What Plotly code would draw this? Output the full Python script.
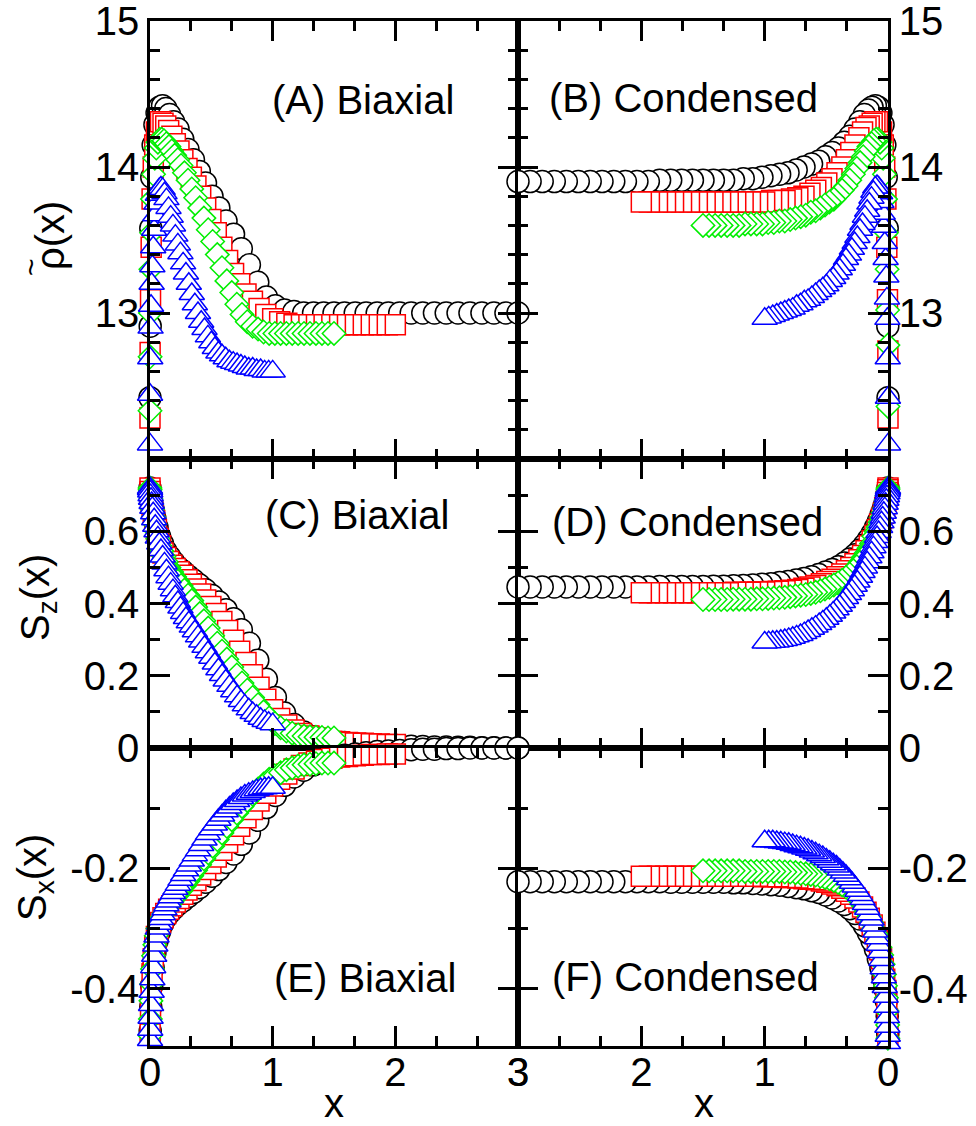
import plotly.graph_objects as go

FONT = "Liberation Sans, Arial, sans-serif"

# ---------------- data: x grids (one per slab width L = 3, 2, 1.5, 1) ----------------
x_L3 = [0.0, 0.0016, 0.0064, 0.0144, 0.0257, 0.0401, 0.0576, 0.0784, 0.1022, 0.1292,
        0.1592, 0.1923, 0.2284, 0.2674, 0.3094, 0.3542, 0.4019, 0.4524, 0.5056, 0.5615,
        0.6199, 0.6810, 0.7445, 0.8104, 0.8787, 0.9492, 1.0220, 1.0968, 1.1737, 1.2526,
        1.3333, 1.4158, 1.5000, 1.5858, 1.6731, 1.7619, 1.8520, 1.9433, 2.0357, 2.1291,
        2.2235, 2.3188, 2.4147, 2.5113, 2.6084, 2.7059, 2.8038, 2.9018, 3.0]
x_L2 = [0.0, 0.0011, 0.0043, 0.0096, 0.0171, 0.0267, 0.0384, 0.0522, 0.0681, 0.0861,
        0.1061, 0.1282, 0.1522, 0.1783, 0.2063, 0.2362, 0.2679, 0.3016, 0.3371, 0.3743,
        0.4133, 0.4540, 0.4963, 0.5403, 0.5858, 0.6328, 0.6813, 0.7312, 0.7825, 0.8350,
        0.8889, 0.9439, 1.0000, 1.0572, 1.1154, 1.1746, 1.2346, 1.2955, 1.3571, 1.4194,
        1.4824, 1.5458, 1.6098, 1.6742, 1.7389, 1.8040, 1.8692, 1.9346, 2.0]
x_L15 = [0.0, 0.0008, 0.0032, 0.0072, 0.0128, 0.0200, 0.0288, 0.0392, 0.0511, 0.0646,
         0.0796, 0.0961, 0.1142, 0.1337, 0.1547, 0.1771, 0.2010, 0.2262, 0.2528, 0.2807,
         0.3100, 0.3405, 0.3722, 0.4052, 0.4393, 0.4746, 0.5110, 0.5484, 0.5868, 0.6263,
         0.6667, 0.7079, 0.7500, 0.7929, 0.8366, 0.8809, 0.9260, 0.9716, 1.0179, 1.0646,
         1.1118, 1.1594, 1.2073, 1.2556, 1.3042, 1.3530, 1.4019, 1.4510, 1.5]
x_L1 = [0.0, 0.0005, 0.0021, 0.0048, 0.0086, 0.0134, 0.0192, 0.0261, 0.0341, 0.0431,
        0.0531, 0.0641, 0.0761, 0.0891, 0.1031, 0.1181, 0.1340, 0.1508, 0.1685, 0.1872,
        0.2066, 0.2270, 0.2482, 0.2701, 0.2929, 0.3164, 0.3407, 0.3656, 0.3912, 0.4175,
        0.4444, 0.4719, 0.5000, 0.5286, 0.5577, 0.5873, 0.6173, 0.6478, 0.6786, 0.7097,
        0.7412, 0.7729, 0.8049, 0.8371, 0.8695, 0.9020, 0.9346, 0.9673, 1.0]

# ---------------- (A) biaxial density ----------------
rho_biax_L3 = [12.42, 12.91, 13.58, 13.93, 14.15, 14.29, 14.37, 14.41, 14.42, 14.40,
               14.36, 14.31, 14.26, 14.19, 14.12, 14.05, 13.97, 13.89, 13.80, 13.72,
               13.63, 13.54, 13.44, 13.33, 13.21, 13.11, 13.05, 13.02, 13.01, 13.00,
               13.00, 13.00, 13.00, 13.00, 13.00, 13.00, 13.00, 13.00, 13.00, 13.00,
               13.00, 13.00, 13.00, 13.00, 13.00, 13.00, 13.00, 13.00, 13.00]
rho_biax_L2 = [12.28, 12.73, 13.09, 13.45, 13.78, 14.00, 14.15, 14.24, 14.29, 14.31,
               14.30, 14.28, 14.25, 14.21, 14.16, 14.11, 14.05, 13.99, 13.93, 13.87,
               13.80, 13.72, 13.64, 13.55, 13.45, 13.36, 13.27, 13.20, 13.13, 13.08,
               13.03, 12.99, 12.96, 12.94, 12.93, 12.92, 12.92, 12.92, 12.92, 12.92,
               12.92, 12.92, 12.92, 12.92, 12.92, 12.92, 12.92, 12.92, 12.92]
rho_biax_L15 = [12.33, 12.70, 13.00, 13.30, 13.55, 13.78, 13.95, 14.06, 14.13, 14.17,
                14.19, 14.19, 14.18, 14.16, 14.14, 14.11, 14.08, 14.05, 14.01, 13.96,
                13.91, 13.85, 13.79, 13.72, 13.65, 13.57, 13.49, 13.40, 13.31, 13.22,
                13.14, 13.06, 12.99, 12.94, 12.91, 12.89, 12.87, 12.86, 12.86, 12.86,
                12.86, 12.86, 12.86, 12.86, 12.86, 12.86, 12.86, 12.86, 12.86]
rho_biax_L1 = [12.10, 12.44, 12.69, 12.90, 13.05, 13.20, 13.32, 13.45, 13.57, 13.67,
               13.75, 13.81, 13.85, 13.86, 13.85, 13.82, 13.78, 13.72, 13.66, 13.60,
               13.53, 13.47, 13.41, 13.34, 13.27, 13.20, 13.13, 13.06, 13.00, 12.94,
               12.89, 12.84, 12.80, 12.76, 12.73, 12.71, 12.69, 12.67, 12.66, 12.65,
               12.64, 12.63, 12.62, 12.62, 12.61, 12.61, 12.60, 12.60, 12.60]

# ---------------- (B) condensed density ----------------
rho_cond_L3 = [12.42, 12.91, 13.58, 13.93, 14.15, 14.29, 14.37, 14.41, 14.42, 14.41,
               14.39, 14.36, 14.31, 14.26, 14.21, 14.17, 14.13, 14.10, 14.07, 14.04,
               14.02, 14.00, 13.98, 13.96, 13.95, 13.94, 13.93, 13.92, 13.92, 13.91,
               13.91, 13.91, 13.91, 13.91, 13.91, 13.91, 13.91, 13.90, 13.90, 13.90,
               13.90, 13.90, 13.90, 13.90, 13.90, 13.90, 13.90, 13.90, 13.90]
rho_cond_L2 = [12.28, 12.74, 13.09, 13.45, 13.78, 14.00, 14.15, 14.24, 14.29, 14.31,
               14.31, 14.30, 14.28, 14.27, 14.24, 14.20, 14.15, 14.10, 14.05, 14.00,
               13.96, 13.92, 13.89, 13.86, 13.84, 13.82, 13.80, 13.79, 13.78, 13.77,
               13.77, 13.77, 13.76, 13.76, 13.76, 13.76, 13.76, 13.76, 13.76, 13.76,
               13.76, 13.76, 13.76, 13.76, 13.76, 13.76, 13.76, 13.76, 13.76]
rho_cond_L15 = [12.36, 12.78, 13.02, 13.30, 13.55, 13.78, 13.95, 14.06, 14.13, 14.17,
                14.19, 14.19, 14.18, 14.16, 14.14, 14.11, 14.07, 14.03, 13.99, 13.95,
                13.91, 13.87, 13.84, 13.81, 13.78, 13.76, 13.74, 13.72, 13.70, 13.69,
                13.67, 13.66, 13.65, 13.64, 13.63, 13.63, 13.62, 13.62, 13.61, 13.61,
                13.61, 13.61, 13.60, 13.60, 13.60, 13.60, 13.60, 13.60, 13.60]
rho_cond_L1 = [12.10, 12.42, 12.69, 12.96, 13.10, 13.25, 13.37, 13.48, 13.59, 13.68,
               13.76, 13.82, 13.86, 13.87, 13.86, 13.83, 13.79, 13.75, 13.70, 13.66,
               13.61, 13.57, 13.52, 13.48, 13.44, 13.40, 13.37, 13.33, 13.30, 13.27,
               13.24, 13.22, 13.19, 13.17, 13.15, 13.13, 13.11, 13.09, 13.08, 13.06,
               13.05, 13.03, 13.02, 13.01, 13.00, 12.99, 12.98, 12.97, 12.96]

# ---------------- (C) biaxial S_z ----------------
sz_biax_L3 = [0.720, 0.710, 0.700, 0.680, 0.660, 0.635, 0.610, 0.585, 0.565, 0.545,
              0.530, 0.515, 0.500, 0.490, 0.477, 0.465, 0.452, 0.438, 0.422, 0.404,
              0.383, 0.358, 0.327, 0.290, 0.243, 0.190, 0.140, 0.097, 0.065, 0.044,
              0.031, 0.023, 0.018, 0.015, 0.012, 0.010, 0.008, 0.007, 0.006, 0.005,
              0.004, 0.003, 0.003, 0.002, 0.002, 0.001, 0.001, 0.000, 0.000]
sz_biax_L2 = [0.720, 0.710, 0.700, 0.685, 0.670, 0.650, 0.630, 0.605, 0.580, 0.560,
              0.540, 0.527, 0.516, 0.506, 0.497, 0.488, 0.478, 0.466, 0.453, 0.440,
              0.426, 0.410, 0.392, 0.372, 0.350, 0.325, 0.298, 0.268, 0.237, 0.203,
              0.168, 0.135, 0.106, 0.082, 0.064, 0.050, 0.040, 0.033, 0.028, 0.024,
              0.019, 0.017, 0.015, 0.014, 0.013, 0.012, 0.011, 0.010, 0.010]
sz_biax_L15 = [0.720, 0.715, 0.705, 0.690, 0.675, 0.660, 0.640, 0.620, 0.600, 0.580,
               0.560, 0.545, 0.530, 0.515, 0.500, 0.487, 0.474, 0.462, 0.450, 0.437,
               0.423, 0.408, 0.390, 0.372, 0.352, 0.332, 0.311, 0.290, 0.268, 0.246,
               0.224, 0.202, 0.180, 0.160, 0.140, 0.120, 0.100, 0.083, 0.068, 0.056,
               0.047, 0.041, 0.036, 0.033, 0.031, 0.030, 0.029, 0.028, 0.028]
sz_biax_L1 = [0.720, 0.716, 0.710, 0.700, 0.690, 0.678, 0.665, 0.650, 0.633, 0.615,
              0.600, 0.583, 0.566, 0.548, 0.530, 0.511, 0.492, 0.473, 0.455, 0.437,
              0.420, 0.404, 0.389, 0.374, 0.360, 0.348, 0.336, 0.323, 0.309, 0.295,
              0.280, 0.265, 0.250, 0.234, 0.218, 0.202, 0.187, 0.172, 0.157, 0.143,
              0.130, 0.118, 0.107, 0.097, 0.089, 0.081, 0.075, 0.070, 0.066]

# ---------------- (D) condensed S_z ----------------
sz_cond_L3 = [0.720, 0.715, 0.705, 0.690, 0.675, 0.660, 0.645, 0.627, 0.610, 0.593,
              0.577, 0.562, 0.548, 0.535, 0.523, 0.512, 0.502, 0.494, 0.487, 0.480,
              0.474, 0.469, 0.465, 0.461, 0.458, 0.455, 0.453, 0.451, 0.450, 0.449,
              0.448, 0.448, 0.447, 0.447, 0.447, 0.447, 0.447, 0.446, 0.446, 0.446,
              0.446, 0.446, 0.446, 0.446, 0.446, 0.446, 0.446, 0.446, 0.446]
sz_cond_L2 = [0.720, 0.715, 0.707, 0.695, 0.680, 0.665, 0.650, 0.635, 0.620, 0.604,
              0.589, 0.574, 0.560, 0.546, 0.533, 0.521, 0.510, 0.500, 0.491, 0.482,
              0.474, 0.467, 0.461, 0.455, 0.450, 0.446, 0.442, 0.439, 0.437, 0.435,
              0.434, 0.433, 0.432, 0.432, 0.431, 0.431, 0.431, 0.430, 0.430, 0.430,
              0.430, 0.430, 0.430, 0.430, 0.430, 0.430, 0.430, 0.430, 0.430]
sz_cond_L15 = [0.720, 0.716, 0.708, 0.698, 0.687, 0.675, 0.663, 0.651, 0.638, 0.625,
               0.612, 0.599, 0.586, 0.566, 0.553, 0.540, 0.527, 0.514, 0.502, 0.491,
               0.481, 0.472, 0.464, 0.457, 0.451, 0.445, 0.440, 0.435, 0.431, 0.428,
               0.425, 0.423, 0.421, 0.419, 0.417, 0.416, 0.415, 0.414, 0.413, 0.413,
               0.412, 0.412, 0.412, 0.412, 0.411, 0.411, 0.411, 0.411, 0.411]
sz_cond_L1 = [0.720, 0.717, 0.712, 0.705, 0.697, 0.687, 0.676, 0.664, 0.651, 0.638,
              0.625, 0.612, 0.598, 0.584, 0.570, 0.556, 0.542, 0.528, 0.514, 0.500,
              0.487, 0.474, 0.461, 0.449, 0.437, 0.426, 0.415, 0.404, 0.394, 0.384,
              0.375, 0.366, 0.358, 0.350, 0.343, 0.336, 0.330, 0.324, 0.318, 0.313,
              0.309, 0.305, 0.302, 0.299, 0.297, 0.295, 0.294, 0.293, 0.292]

# ---------------- (E) biaxial S_x ----------------
sx_biax_L3 = [-0.497, -0.470, -0.430, -0.395, -0.365, -0.340, -0.320, -0.305, -0.292, -0.282,
              -0.274, -0.267, -0.260, -0.254, -0.247, -0.240, -0.232, -0.223, -0.213, -0.202,
              -0.190, -0.176, -0.160, -0.141, -0.120, -0.099, -0.079, -0.062, -0.048, -0.037,
              -0.028, -0.021, -0.016, -0.012, -0.010, -0.008, -0.006, -0.005, -0.004, -0.003,
              -0.002, -0.002, -0.001, -0.001, 0.000, 0.000, 0.000, 0.000, 0.000]
sx_biax_L2 = [-0.497, -0.475, -0.440, -0.405, -0.375, -0.350, -0.330, -0.313, -0.300, -0.290,
              -0.282, -0.275, -0.268, -0.262, -0.256, -0.250, -0.243, -0.236, -0.228, -0.220,
              -0.211, -0.202, -0.192, -0.181, -0.170, -0.157, -0.144, -0.130, -0.116, -0.102,
              -0.088, -0.075, -0.063, -0.052, -0.043, -0.035, -0.029, -0.025, -0.022, -0.019,
              -0.017, -0.015, -0.014, -0.013, -0.012, -0.011, -0.011, -0.010, -0.010]
sx_biax_L15 = [-0.497, -0.478, -0.450, -0.420, -0.392, -0.367, -0.345, -0.327, -0.312, -0.300,
               -0.290, -0.282, -0.275, -0.268, -0.262, -0.256, -0.250, -0.244, -0.237, -0.229,
               -0.221, -0.212, -0.203, -0.194, -0.184, -0.174, -0.163, -0.152, -0.141, -0.130,
               -0.119, -0.108, -0.097, -0.087, -0.077, -0.068, -0.060, -0.052, -0.046, -0.041,
               -0.036, -0.033, -0.030, -0.028, -0.027, -0.026, -0.025, -0.025, -0.025]
sx_biax_L1 = [-0.497, -0.485, -0.468, -0.448, -0.427, -0.405, -0.384, -0.364, -0.345, -0.328,
              -0.313, -0.300, -0.292, -0.284, -0.276, -0.268, -0.261, -0.255, -0.248, -0.241,
              -0.234, -0.227, -0.219, -0.211, -0.203, -0.195, -0.187, -0.178, -0.170, -0.161,
              -0.152, -0.143, -0.135, -0.127, -0.119, -0.112, -0.105, -0.099, -0.093, -0.088,
              -0.083, -0.079, -0.076, -0.073, -0.070, -0.068, -0.067, -0.066, -0.066]

# ---------------- (F) condensed S_x ----------------
sx_cond_L3 = [-0.497, -0.475, -0.445, -0.420, -0.400, -0.382, -0.365, -0.350, -0.334, -0.320,
              -0.307, -0.295, -0.284, -0.275, -0.267, -0.260, -0.254, -0.249, -0.244, -0.240,
              -0.237, -0.234, -0.232, -0.230, -0.228, -0.227, -0.226, -0.225, -0.224, -0.224,
              -0.223, -0.223, -0.223, -0.223, -0.223, -0.223, -0.222, -0.222, -0.222, -0.222,
              -0.222, -0.222, -0.222, -0.222, -0.222, -0.222, -0.222, -0.222, -0.222]
sx_cond_L2 = [-0.497, -0.478, -0.450, -0.425, -0.403, -0.384, -0.366, -0.350, -0.335, -0.320,
              -0.306, -0.294, -0.283, -0.273, -0.264, -0.256, -0.249, -0.243, -0.238, -0.233,
              -0.229, -0.226, -0.223, -0.221, -0.219, -0.218, -0.217, -0.216, -0.215, -0.215,
              -0.214, -0.214, -0.214, -0.213, -0.213, -0.213, -0.213, -0.213, -0.213, -0.213,
              -0.213, -0.213, -0.213, -0.213, -0.213, -0.213, -0.213, -0.213, -0.213]
sx_cond_L15 = [-0.497, -0.482, -0.460, -0.437, -0.415, -0.395, -0.376, -0.359, -0.344, -0.331,
               -0.319, -0.309, -0.300, -0.290, -0.280, -0.271, -0.262, -0.254, -0.247, -0.241,
               -0.236, -0.231, -0.227, -0.223, -0.220, -0.217, -0.215, -0.213, -0.211, -0.210,
               -0.209, -0.208, -0.207, -0.206, -0.206, -0.205, -0.205, -0.205, -0.205, -0.205,
               -0.205, -0.205, -0.204, -0.204, -0.204, -0.204, -0.204, -0.204, -0.204]
sx_cond_L1 = [-0.497, -0.490, -0.478, -0.463, -0.447, -0.430, -0.413, -0.397, -0.381, -0.366,
              -0.352, -0.339, -0.327, -0.316, -0.305, -0.295, -0.285, -0.276, -0.267, -0.259,
              -0.251, -0.244, -0.237, -0.230, -0.224, -0.218, -0.212, -0.207, -0.202, -0.197,
              -0.193, -0.189, -0.185, -0.181, -0.178, -0.175, -0.172, -0.169, -0.167, -0.165,
              -0.163, -0.161, -0.159, -0.158, -0.157, -0.156, -0.155, -0.155, -0.155]

# ---------------- ticks / labels ----------------
x_ticks = [0, 1, 2, 3]
x_ticktext = ["0", "1", "2", "3"]
rho_ticks = [12, 13, 14, 15]
rho_ticktext = ["", "13", "14", "15"]
sz_ticks = [0, 0.2, 0.4, 0.6, 0.8]
sz_ticktext = ["0", "0.2", "0.4", "0.6", ""]
sx_ticks = [-0.4, -0.2, 0]
sx_ticktext = ["-0.4", "-0.2", ""]
panel_labels = ["(A) Biaxial", "(B) Condensed", "(C) Biaxial",
                "(D) Condensed", "(E) Biaxial", "(F) Condensed"]

# ---------------- figure ----------------
W, H = 976, 1126
fig = go.Figure()

xs = [x_L3, x_L2, x_L15, x_L1]
styles = [dict(symbol="circle", size=22, color="black"),
          dict(symbol="square", size=20, color="#ff0000"),
          dict(symbol="diamond", size=18, color="#00ee00"),
          dict(symbol="triangle-up", size=22, color="#0000ff")]
panels = [("x", "y", [rho_biax_L3, rho_biax_L2, rho_biax_L15, rho_biax_L1]),
          ("x2", "y2", [rho_cond_L3, rho_cond_L2, rho_cond_L15, rho_cond_L1]),
          ("x3", "y3", [sz_biax_L3, sz_biax_L2, sz_biax_L15, sz_biax_L1]),
          ("x4", "y4", [sz_cond_L3, sz_cond_L2, sz_cond_L15, sz_cond_L1]),
          ("x5", "y5", [sx_biax_L3, sx_biax_L2, sx_biax_L15, sx_biax_L1]),
          ("x6", "y6", [sx_cond_L3, sx_cond_L2, sx_cond_L15, sx_cond_L1])]

for xa, ya, ys in panels:
    for xv, yv, st in zip(xs, ys, styles):
        fig.add_trace(go.Scatter(
            x=xv, y=yv, xaxis=xa, yaxis=ya, mode="markers", cliponaxis=False,
            showlegend=False, hoverinfo="skip",
            marker=dict(symbol=st["symbol"], size=st["size"], color="white",
                        line=dict(color=st["color"], width=1.5))))

LX = [150 / W, 518 / W]
RX = [518 / W, 888 / W]
ROW1 = [1 - 459 / H, 1 - 21 / H]
ROW2 = [1 - 748 / H, 1 - 459 / H]
ROW3 = [1 - 1046 / H, 1 - 748 / H]

common = dict(showline=True, linecolor="black", linewidth=2.5, mirror="allticks",
              ticks="inside", ticklen=20, tickwidth=2.5, tickcolor="black",
              showgrid=False, zeroline=False, layer="above traces",
              automargin=False, ticklabeloverflow="allow",
              tickfont=dict(family=FONT, size=40, color="black"),
              tickmode="array")


def minor(dt):
    return dict(ticks="inside", ticklen=10, tickwidth=2.5, tickcolor="black",
                tickmode="linear", dtick=dt, showgrid=False)


def xaxis(domain, anchor, rng, show):
    d = dict(common)
    d.update(domain=domain, anchor=anchor, range=rng, tickvals=x_ticks,
             ticktext=x_ticktext, showticklabels=show, minor=minor(1 / 3),
             ticklabelstandoff=-11)
    d["minor"]["tick0"] = 0
    return d


def yaxis(domain, anchor, rng, tv, tt, dt, t0, side):
    d = dict(common)
    d.update(domain=domain, anchor=anchor, range=rng, tickvals=tv, ticktext=tt,
             side=side, minor=minor(dt))
    d["minor"]["tick0"] = t0
    return d


fig.update_layout(
    width=W, height=H, autosize=False,
    margin=dict(l=0, r=0, t=0, b=0, autoexpand=False),
    paper_bgcolor="white", plot_bgcolor="white",
    font=dict(family=FONT, size=40, color="black"),
    xaxis=xaxis(LX, "y", [0, 3], False),
    xaxis2=xaxis(RX, "y2", [3, 0], False),
    xaxis3=xaxis(LX, "y3", [0, 3], False),
    xaxis4=xaxis(RX, "y4", [3, 0], False),
    xaxis5=xaxis(LX, "y5", [0, 3], True),
    xaxis6=xaxis(RX, "y6", [3, 0], True),
    yaxis=yaxis(ROW1, "x", [12, 15], rho_ticks, rho_ticktext, 0.2, 12, "left"),
    yaxis2=yaxis(ROW1, "x2", [12, 15], rho_ticks, rho_ticktext, 0.2, 12, "right"),
    yaxis3=yaxis(ROW2, "x3", [0, 0.8], sz_ticks, sz_ticktext, 0.1, 0, "left"),
    yaxis4=yaxis(ROW2, "x4", [0, 0.8], sz_ticks, sz_ticktext, 0.1, 0, "right"),
    yaxis5=yaxis(ROW3, "x5", [-0.495, 0], sx_ticks, sx_ticktext, 0.1, 0, "left"),
    yaxis6=yaxis(ROW3, "x6", [-0.495, 0], sx_ticks, sx_ticktext, 0.1, 0, "right"),
)

# panel captions
cap_pos = [(270, 100), (547, 98), (263, 515), (550, 522), (272, 978), (550, 977)]
for txt, (px, py) in zip(panel_labels, cap_pos):
    fig.add_annotation(text=txt, x=px / W, y=1 - py / H, xref="paper", yref="paper",
                       xanchor="left", yanchor="middle", showarrow=False,
                       font=dict(family=FONT, size=40, color="black"))

# axis titles (rho with a tilde placed over it)
ytitles = [("\u03c1(x)", 50, 236), ("S<sub>z</sub>(x)", 38, 598),
           ("S<sub>x</sub>(x)", 35, 878)]
for txt, px, py in ytitles:
    fig.add_annotation(text=txt, x=px / W, y=1 - py / H, xref="paper", yref="paper",
                       xanchor="center", yanchor="middle", textangle=-90, showarrow=False,
                       font=dict(family=FONT, size=40, color="black"))
fig.add_annotation(text="~", x=30 / W, y=1 - 267 / H, xref="paper", yref="paper",
                   xanchor="center", yanchor="middle", textangle=-90, showarrow=False,
                   font=dict(family=FONT, size=30, color="black"))
for px in (334, 704):
    fig.add_annotation(text="x", x=px / W, y=1 - 1103 / H, xref="paper", yref="paper",
                       xanchor="center", yanchor="middle", showarrow=False,
                       font=dict(family=FONT, size=40, color="black"))

fig.write_html("out.html")
